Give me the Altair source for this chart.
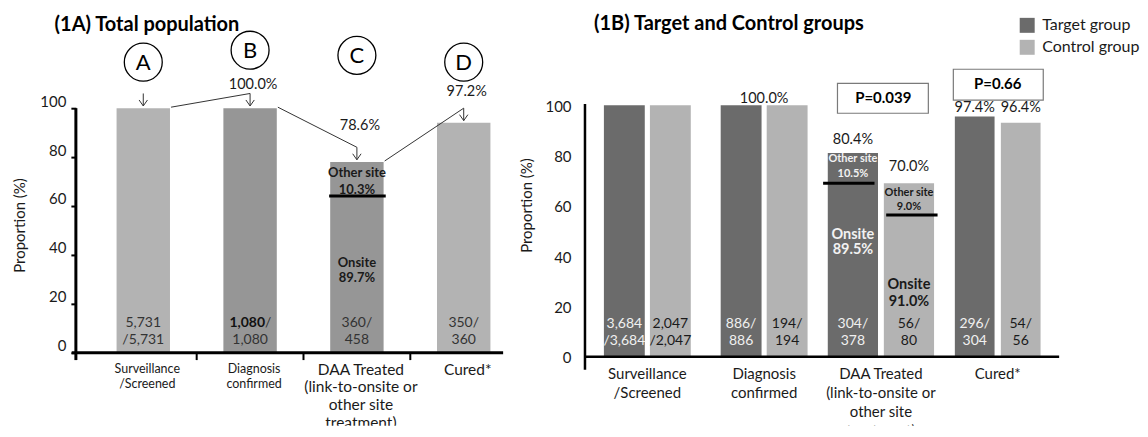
import altair as alt
import pandas as pd

FONT = "Lato"
LIGHT = "#b3b3b3"
MID = "#969696"
TARGET = "#6b6b6b"
INK = "#1a1a1a"

# ---------------- data: panel 1A ----------------
a_categories = ["Surveillance\n/Screened", "Diagnosis\nconfirmed",
                "DAA Treated\n(link-to-onsite or\nother site\ntreatment)", "Cured*"]
a_heights = [100, 100, 78, 94]            # bar heights as drawn (%)
a_letters = ["A", "B", "C", "D"]
a_pct_labels = ["100.0%", "78.6%", "97.2%"]   # stages B, C, D
a_count_top = ["5,731", "", "360/", "350/"]
a_count_bottom = ["/5,731", "1,080", "458", "360"]
a_bold_count = "1,080"
a_other = ["Other site", "10.3%"]
a_onsite = ["Onsite", "89.7%"]
y_ticks = [0, 20, 40, 60, 80, 100]

# ---------------- data: panel 1B ----------------
b_categories = a_categories
b_groups = ["Target group", "Control group"]
b_target = [100, 100, 81, 95.5]
b_control = [100, 100, 69, 93]
b_target_top = ["3,684", "886/", "304/", "296/"]
b_target_bottom = ["/3,684", "886", "378", "304"]
b_control_top = ["2,047", "194/", "56/", "54/"]
b_control_bottom = ["/2,047", "194", "80", "56"]
b_pct_target = ["", "", "80.4%", "97.4%"]
b_pct_control = ["", "", "70.0%", "96.4%"]
b_pct_both = ["", "100.0%", "", ""]
b_pvalues = ["P=0.039", "P=0.66"]
b_other_t = ["Other site", "10.5%"]
b_onsite_t = ["Onsite", "89.5%"]
b_other_c = ["Other site", "9.0%"]
b_onsite_c = ["Onsite", "91.0%"]

# ---------------- scales / axes ----------------
H = 418
XA = alt.Scale(domain=[-0.631, 3.369], nice=False, zero=False)
YA = alt.Scale(domain=[-29.8, 140.8], nice=False, zero=False)
XB = alt.Scale(domain=[-0.534, 3.526], nice=False, zero=False)
YB = alt.Scale(domain=[-27.4, 138.5], nice=False, zero=False)

AXIS_A = alt.Axis(values=y_ticks, title="Proportion (%)", domain=False, grid=False,
                  ticks=True, tickSize=5, tickWidth=2, tickColor="black",
                  labelPadding=5, labelFontSize=15, labelFont=FONT, labelColor=INK,
                  labelOffset=-7, titleFont=FONT, titleFontSize=15,
                  titleFontWeight="normal", titleColor=INK, titlePadding=12, titleY=217)
AXIS_B = alt.Axis(values=y_ticks, title="Proportion (%)", domain=False, grid=False,
                  ticks=False, labelPadding=14, labelFontSize=15, labelFont=FONT,
                  labelColor=INK, labelOffset=1, titleFont=FONT, titleFontSize=15,
                  titleFontWeight="normal", titleColor=INK, titlePadding=10, titleY=197)


def base(df, xs, ys, yaxis, x2=False, y2=False, text=False):
    enc = {"x": alt.X("x:Q", scale=xs, axis=None),
           "y": alt.Y("y:Q", scale=ys, axis=yaxis)}
    if x2:
        enc["x2"] = alt.X2("x2:Q")
    if y2:
        enc["y2"] = alt.Y2("y2:Q")
    if text:
        enc["text"] = alt.Text("t:N")
    return alt.Chart(pd.DataFrame(df)).encode(**enc)


def A(df, **kw):
    return base(df, XA, YA, AXIS_A, **kw)


def B(df, **kw):
    return base(df, XB, YB, AXIS_B, **kw)


# ================= panel 1A =================
idx = list(range(4))
HW_A = 0.25
a_colors = [LIGHT, MID, MID, LIGHT]
ARROW_TOP = 6.0
a_circle_y = [118.8, 123.7, 121.6, 118.8]
a_pct_y = [109.4, 92.7, 106.5]

bars_a = A({"x": [i - HW_A for i in idx], "x2": [i + HW_A for i in idx],
            "y": [0] * 4, "y2": a_heights, "c": a_colors},
           x2=True, y2=True).mark_rect().encode(color=alt.Color("c:N", scale=None))

circles = A({"x": idx, "y": a_circle_y}).mark_point(
    shape="circle", size=1444, filled=False, stroke="black", strokeWidth=1.3, opacity=1)
letters = A({"x": idx, "y": a_circle_y, "t": a_letters}, text=True).mark_text(
    font=FONT, fontSize=22, color="black", baseline="middle", dy=1)

pct_a = A({"x": idx[1:], "y": a_pct_y, "t": a_pct_labels}, text=True).mark_text(
    font=FONT, fontSize=14.5, color=INK, baseline="middle", dx=3)

shafts = A({"x": idx, "y": [h + ARROW_TOP for h in a_heights],
            "y2": [h + 0.9 for h in a_heights]}, y2=True).mark_rule(
    color="#333", strokeWidth=1)
heads = A({"x": idx, "y": [h + 0.9 for h in a_heights]}).mark_point(
    shape="M-0.7,-1L0,0L0.7,-1", size=144, filled=False, stroke="#333",
    strokeWidth=1, opacity=1)
connect = A({"x": [i + HW_A + 0.01 for i in idx[:3]],
             "y": [a_heights[i] + 0.4 for i in idx[:3]],
             "x2": [i + 1 for i in idx[:3]],
             "y2": [a_heights[i + 1] + ARROW_TOP for i in idx[:3]]},
            x2=True, y2=True).mark_rule(color="#333", strokeWidth=1)

split_a = A({"x": [2 - HW_A - 0.01], "x2": [2 + HW_A + 0.02], "y": [64.1]},
            x2=True).mark_rule(color="black", strokeWidth=3)
inside_a = A({"x": [2, 2, 2, 2], "y": [73.5, 66.5, 36.7, 30.6],
              "t": a_other + a_onsite}, text=True).mark_text(
    font=FONT, fontSize=13, fontWeight="bold", color=INK, baseline="middle")

cnt_top_a = A({"x": idx, "y": [12.2] * 4, "t": a_count_top}, text=True).mark_text(
    font=FONT, fontSize=14, color="#333", baseline="middle")
cnt_bot_a = A({"x": idx, "y": [5.3] * 4, "t": a_count_bottom}, text=True).mark_text(
    font=FONT, fontSize=14, color="#333", baseline="middle")
bold_cnt = A({"x": [1], "y": [12.2], "t": [a_bold_count]}, text=True).mark_text(
    font=FONT, fontSize=14, fontWeight="bold", color="#111", baseline="middle",
    align="right", dx=15)
slash_cnt = A({"x": [1], "y": [12.2], "t": ["/"]}, text=True).mark_text(
    font=FONT, fontSize=14, color="#333", baseline="middle", align="left", dx=15)

cat_small_a = A({"x": idx[:2], "y": [-4.0] * 2, "t": a_categories[:2]}, text=True).mark_text(
    font=FONT, fontSize=12.5, lineHeight=16, lineBreak="\n", color=INK,
    baseline="top", dx=4, clip=True)
cat_big_a = A({"x": idx[2:], "y": [-4.0] * 2, "t": a_categories[2:]}, text=True).mark_text(
    font=FONT, fontSize=15.5, lineHeight=18, lineBreak="\n", color=INK,
    baseline="top", dx=4, clip=True)

yaxis_a = A({"x": [-0.631], "y": [-3], "y2": [100]}, y2=True).mark_rule(
    color="black", strokeWidth=3)
xaxis_a = A({"x": [-0.67], "x2": [3.369], "y": [0]}, x2=True).mark_rule(
    color="black", strokeWidth=3)
xticks_a = A({"x": [0.5, 1.5, 2.5], "y": [0] * 3, "y2": [-3] * 3}, y2=True).mark_rule(
    color="black", strokeWidth=2)

title_a = A({"x": [-0.83], "y": [134.2], "t": ["(1A) Total population"]},
            text=True).mark_text(font=FONT, fontSize=20, fontWeight="bold",
                                 color="black", align="left", baseline="middle")

panel_a = alt.layer(bars_a, split_a, inside_a, cnt_top_a, cnt_bot_a, bold_cnt, slash_cnt,
                    connect, shafts, heads, pct_a, circles, letters,
                    cat_small_a, cat_big_a, yaxis_a, xaxis_a, xticks_a, title_a
                    ).properties(width=428, height=H)

# ================= panel 1B =================
# bar centre offsets and half widths per stage (the DAA pair is drawn wider)
b_off = [0.197, 0.197, 0.24, 0.197]
b_half = [0.175, 0.175, 0.215, 0.17]
xt = [i - o for i, o in zip(idx, b_off)]
xc = [i + o for i, o in zip(idx, b_off)]

bars_b = B({"x": [x - h for x, h in zip(xt, b_half)] + [x - h for x, h in zip(xc, b_half)],
            "x2": [x + h for x, h in zip(xt, b_half)] + [x + h for x, h in zip(xc, b_half)],
            "y": [0] * 8, "y2": b_target + b_control,
            "g": [b_groups[0]] * 4 + [b_groups[1]] * 4},
           x2=True, y2=True).mark_rect().encode(
    color=alt.Color("g:N", scale=alt.Scale(domain=b_groups, range=[TARGET, LIGHT]),
                    legend=alt.Legend(orient="none", legendX=945, legendY=9, title=None,
                                      symbolType="square", symbolSize=225,
                                      symbolStrokeWidth=0, labelFont=FONT,
                                      labelFontSize=16, labelColor=INK, rowPadding=6,
                                      labelOffset=7, padding=0)))

pct_b = B({"x": xt + xc + idx,
           "y": [0, 0, 86.1, 98.8] + [0, 0, 75.4, 98.8] + [0, 102.4, 0, 0],
           "t": b_pct_target + b_pct_control + b_pct_both}, text=True).mark_text(
    font=FONT, fontSize=14.5, color=INK, baseline="middle")

pbox = B({"x": [1.628, 2.62], "x2": [2.406, 3.39], "y": [96.8, 102.0],
          "y2": [108.7, 114.3]}, x2=True, y2=True).mark_rect(
    fill="white", stroke="#7a7a7a", strokeWidth=1.2)
ptext = B({"x": [2.02, 3.0], "y": [102.8, 108.3], "t": b_pvalues}, text=True).mark_text(
    font=FONT, fontSize=15, fontWeight="bold", color="black", baseline="middle")

split_b = B({"x": [xt[2] - b_half[2] - 0.04, xc[2] - b_half[2] + 0.02],
             "x2": [xt[2] + b_half[2] - 0.03, xc[2] + b_half[2] + 0.03],
             "y": [69.0, 56.3]}, x2=True).mark_rule(color="black", strokeWidth=3)
other_t = B({"x": [xt[2]] * 2, "y": [78.6, 72.6], "t": b_other_t}, text=True).mark_text(
    font=FONT, fontSize=11, fontWeight="bold", color="#f2f2f2", baseline="middle")
onsite_t = B({"x": [xt[2]] * 2, "y": [48.4, 42.5], "t": b_onsite_t}, text=True).mark_text(
    font=FONT, fontSize=14.5, fontWeight="bold", color="#f2f2f2", baseline="middle")
other_c = B({"x": [xc[2]] * 2, "y": [65.1, 59.5], "t": b_other_c}, text=True).mark_text(
    font=FONT, fontSize=11, fontWeight="bold", color=INK, baseline="middle")
onsite_c = B({"x": [xc[2]] * 2, "y": [28.6, 21.8], "t": b_onsite_c}, text=True).mark_text(
    font=FONT, fontSize=14.5, fontWeight="bold", color=INK, baseline="middle")

cnt_t = B({"x": xt + xt, "y": [13.1] * 4 + [6.3] * 4,
           "t": b_target_top + b_target_bottom}, text=True).mark_text(
    font=FONT, fontSize=14, color="#f0f0f0", baseline="middle")
cnt_c = B({"x": xc + xc, "y": [13.1] * 4 + [6.3] * 4,
           "t": b_control_top + b_control_bottom}, text=True).mark_text(
    font=FONT, fontSize=14, color=INK, baseline="middle")

cat_b = B({"x": idx, "y": [-4.0] * 4, "t": b_categories}, text=True).mark_text(
    font=FONT, fontSize=15, lineHeight=19, lineBreak="\n", color=INK,
    baseline="top", clip=True)

yaxis_b = B({"x": [-0.534], "y": [-5.2], "y2": [100.5]}, y2=True).mark_rule(
    color="black", strokeWidth=2.5)
xaxis_b = B({"x": [-0.534], "x2": [3.526], "y": [0]}, x2=True).mark_rule(
    color="black", strokeWidth=2.5)

title_b = B({"x": [-0.457], "y": [132.1], "t": ["(1B) Target and Control groups"]},
            text=True).mark_text(font=FONT, fontSize=20, fontWeight="bold",
                                 color="black", align="left", baseline="middle")

panel_b = alt.layer(bars_b, split_b, other_t, onsite_t, other_c, onsite_c, cnt_t, cnt_c,
                    pct_b, pbox, ptext, cat_b, yaxis_b, xaxis_b, title_b
                    ).properties(width=475, height=H)

chart = alt.hconcat(panel_a, panel_b, spacing=14).properties(
    padding={"left": 4, "top": 0, "right": 0, "bottom": 0}
).configure(font=FONT).configure_view(stroke=None)

chart.save("out.html", embed_options={"renderer": "svg", "actions": False})
